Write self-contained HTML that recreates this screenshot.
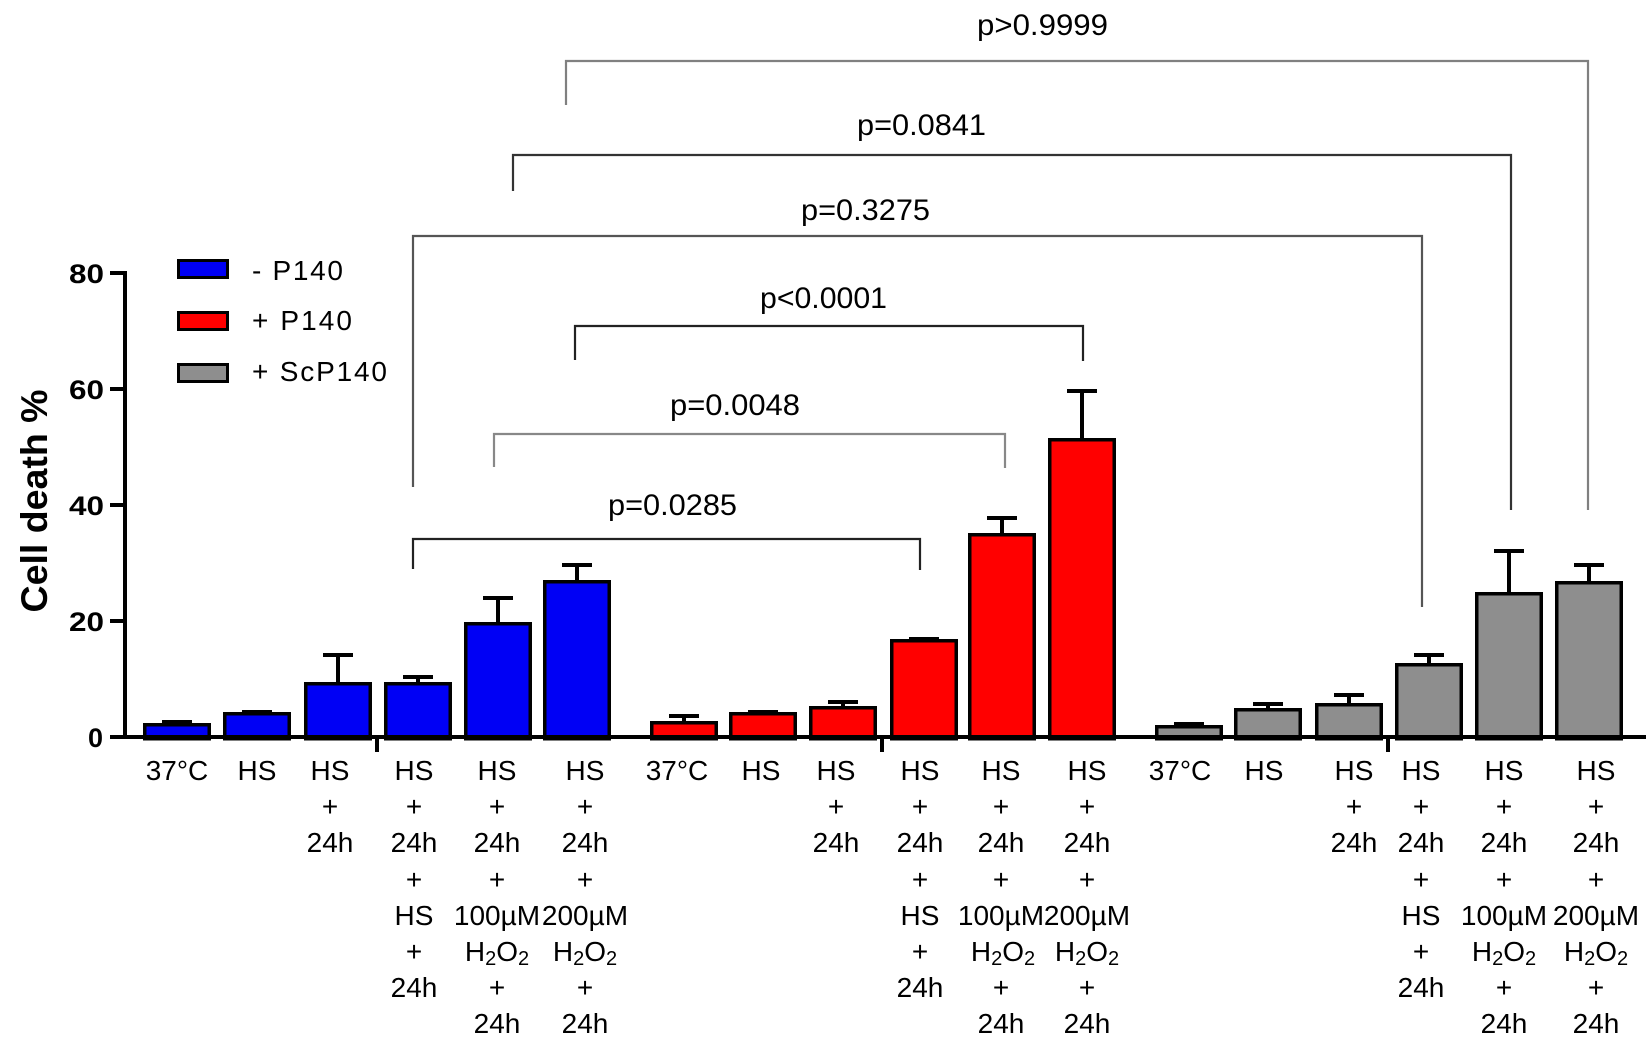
<!DOCTYPE html>
<html><head><meta charset="utf-8"><style>
html,body{margin:0;padding:0;background:#fff;}
svg{display:block;}
text{font-family:"Liberation Sans",Arial,sans-serif;fill:#000;}
.lbl{font-size:28px;text-anchor:middle;}
.pv{font-size:30px;}
.tk{font-size:27px;font-weight:bold;text-anchor:end;}
.lg{font-size:28px;}
</style></head><body>
<svg width="1650" height="1041" viewBox="0 0 1650 1041" xmlns="http://www.w3.org/2000/svg">
<rect width="1650" height="1041" fill="#fff"/>

<!-- Brackets -->
<g fill="none" stroke-width="2.2">
<path d="M566,105 V61 H1588 V510" stroke="#808080"/>
<path d="M513,191 V155 H1511 V510" stroke="#333"/>
<path d="M413,487 V236 H1422 V607" stroke="#555"/>
<path d="M575,360 V326 H1083 V361" stroke="#222"/>
<path d="M494,467 V434 H1005 V468" stroke="#888"/>
<path d="M413,569 V539 H920 V570" stroke="#222"/>
</g>

<!-- p values -->
<text class="pv" x="977" y="35" textLength="131" lengthAdjust="spacingAndGlyphs">p&gt;0.9999</text>
<text class="pv" x="857" y="135" textLength="129" lengthAdjust="spacingAndGlyphs">p=0.0841</text>
<text class="pv" x="801" y="220" textLength="129" lengthAdjust="spacingAndGlyphs">p=0.3275</text>
<text class="pv" x="760" y="308" textLength="127" lengthAdjust="spacingAndGlyphs">p&lt;0.0001</text>
<text class="pv" x="670" y="415" textLength="130" lengthAdjust="spacingAndGlyphs">p=0.0048</text>
<text class="pv" x="608" y="515" textLength="129" lengthAdjust="spacingAndGlyphs">p=0.0285</text>

<!-- Error bars -->
<g stroke="#000" stroke-width="4" fill="none">
<!-- blue -->
<path d="M177,723 V722 M162,722 H192"/>
<path d="M257,712 V712 M242,712 H272"/>
<path d="M338,682 V655 M323,655 H353"/>
<path d="M418,682 V677 M403,677 H433"/>
<path d="M498,622 V598 M483,598 H513"/>
<path d="M577,580 V565 M562,565 H592"/>
<!-- red -->
<path d="M684,721 V716 M669,716 H699"/>
<path d="M763,712 V712 M748,712 H778"/>
<path d="M843,706 V702 M828,702 H858"/>
<path d="M924,639 V639 M909,639 H939"/>
<path d="M1002,533 V518 M987,518 H1017"/>
<path d="M1082,438 V391 M1067,391 H1097"/>
<!-- gray -->
<path d="M1189,725 V724 M1174,724 H1204"/>
<path d="M1268,708 V704 M1253,704 H1283"/>
<path d="M1349,703 V695 M1334,695 H1364"/>
<path d="M1429,663 V655 M1414,655 H1444"/>
<path d="M1509,592 V551 M1494,551 H1524"/>
<path d="M1589,581 V565 M1574,565 H1604"/>
</g>

<!-- Bars -->
<g stroke="#000" stroke-width="3.5">
<g fill="#0000f5">
<rect x="144.75" y="724.75" width="64.5" height="14"/>
<rect x="224.75" y="713.75" width="64.5" height="25"/>
<rect x="305.75" y="683.75" width="64.5" height="55"/>
<rect x="385.75" y="683.75" width="64.5" height="55"/>
<rect x="465.75" y="623.75" width="64.5" height="115"/>
<rect x="544.75" y="581.75" width="64.5" height="157"/>
</g>
<g fill="#ff0000">
<rect x="651.75" y="722.75" width="64.5" height="16"/>
<rect x="730.75" y="713.75" width="64.5" height="25"/>
<rect x="810.75" y="707.75" width="64.5" height="31"/>
<rect x="891.75" y="640.75" width="64.5" height="98"/>
<rect x="969.75" y="534.75" width="64.5" height="204"/>
<rect x="1049.75" y="439.75" width="64.5" height="299"/>
</g>
<g fill="#8e8e8e">
<rect x="1156.75" y="726.75" width="64.5" height="12"/>
<rect x="1235.75" y="709.75" width="64.5" height="29"/>
<rect x="1316.75" y="704.75" width="64.5" height="34"/>
<rect x="1396.75" y="664.75" width="64.5" height="74"/>
<rect x="1476.75" y="593.75" width="64.5" height="145"/>
<rect x="1556.75" y="582.75" width="64.5" height="156"/>
</g>
</g>

<!-- Axes -->
<g stroke="#000" stroke-width="4" fill="none">
<path d="M125,271 V739"/>
<path d="M110,737 H1646"/>
<path d="M110,273 H125 M110,389 H125 M110,505 H125 M110,621 H125"/>
<path d="M377,737 V752 M882,737 V752 M1388,737 V752"/>
</g>

<!-- Tick labels -->
<text class="tk" x="104" y="283" textLength="35" lengthAdjust="spacingAndGlyphs">80</text>
<text class="tk" x="104" y="399" textLength="35" lengthAdjust="spacingAndGlyphs">60</text>
<text class="tk" x="104" y="515" textLength="35" lengthAdjust="spacingAndGlyphs">40</text>
<text class="tk" x="104" y="631" textLength="35" lengthAdjust="spacingAndGlyphs">20</text>
<text class="tk" x="103" y="747">0</text>

<!-- Y axis title -->
<text x="0" y="0" transform="translate(47,501) rotate(-90)" style="font-size:37px;font-weight:bold;text-anchor:middle;" textLength="223" lengthAdjust="spacingAndGlyphs">Cell death %</text>

<!-- Legend -->
<g stroke="#000" stroke-width="3">
<rect x="178.5" y="260.5" width="49" height="17" fill="#0000f5"/>
<rect x="178.5" y="312.5" width="49" height="17" fill="#ff0000"/>
<rect x="178.5" y="364.5" width="49" height="17" fill="#8e8e8e"/>
</g>
<text class="lg" x="252" y="280" textLength="91" lengthAdjust="spacing">-  P140</text>
<text class="lg" x="252" y="330" textLength="100" lengthAdjust="spacing">+ P140</text>
<text class="lg" x="252" y="381" textLength="135" lengthAdjust="spacing">+ ScP140</text>

<!-- X labels: blue group -->
<g class="lbl">
<text class="lbl" x="177" y="780">37°C</text>
<text class="lbl" x="257" y="780">HS</text>
<text class="lbl" x="330" y="780">HS</text><text class="lbl" x="330" y="816">+</text><text class="lbl" x="330" y="852">24h</text>
<text class="lbl" x="414" y="780">HS</text><text class="lbl" x="414" y="816">+</text><text class="lbl" x="414" y="852">24h</text><text class="lbl" x="414" y="889">+</text><text class="lbl" x="414" y="925">HS</text><text class="lbl" x="414" y="961">+</text><text class="lbl" x="414" y="997">24h</text>
<text class="lbl" x="497" y="780">HS</text><text class="lbl" x="497" y="816">+</text><text class="lbl" x="497" y="852">24h</text><text class="lbl" x="497" y="889">+</text><text class="lbl" x="497" y="925">100µM</text><text class="lbl" x="497" y="961">H<tspan font-size="20" dy="4">2</tspan><tspan dy="-4">O</tspan><tspan font-size="20" dy="4">2</tspan></text><text class="lbl" x="497" y="997">+</text><text class="lbl" x="497" y="1033">24h</text>
<text class="lbl" x="585" y="780">HS</text><text class="lbl" x="585" y="816">+</text><text class="lbl" x="585" y="852">24h</text><text class="lbl" x="585" y="889">+</text><text class="lbl" x="585" y="925">200µM</text><text class="lbl" x="585" y="961">H<tspan font-size="20" dy="4">2</tspan><tspan dy="-4">O</tspan><tspan font-size="20" dy="4">2</tspan></text><text class="lbl" x="585" y="997">+</text><text class="lbl" x="585" y="1033">24h</text>

<!-- red group -->
<text class="lbl" x="677" y="780">37°C</text>
<text class="lbl" x="761" y="780">HS</text>
<text class="lbl" x="836" y="780">HS</text><text class="lbl" x="836" y="816">+</text><text class="lbl" x="836" y="852">24h</text>
<text class="lbl" x="920" y="780">HS</text><text class="lbl" x="920" y="816">+</text><text class="lbl" x="920" y="852">24h</text><text class="lbl" x="920" y="889">+</text><text class="lbl" x="920" y="925">HS</text><text class="lbl" x="920" y="961">+</text><text class="lbl" x="920" y="997">24h</text>
<text class="lbl" x="1001" y="780">HS</text><text class="lbl" x="1001" y="816">+</text><text class="lbl" x="1001" y="852">24h</text><text class="lbl" x="1001" y="889">+</text><text class="lbl" x="1001" y="925">100µM</text><text class="lbl" x="1003" y="961">H<tspan font-size="20" dy="4">2</tspan><tspan dy="-4">O</tspan><tspan font-size="20" dy="4">2</tspan></text><text class="lbl" x="1001" y="997">+</text><text class="lbl" x="1001" y="1033">24h</text>
<text class="lbl" x="1087" y="780">HS</text><text class="lbl" x="1087" y="816">+</text><text class="lbl" x="1087" y="852">24h</text><text class="lbl" x="1087" y="889">+</text><text class="lbl" x="1087" y="925">200µM</text><text class="lbl" x="1087" y="961">H<tspan font-size="20" dy="4">2</tspan><tspan dy="-4">O</tspan><tspan font-size="20" dy="4">2</tspan></text><text class="lbl" x="1087" y="997">+</text><text class="lbl" x="1087" y="1033">24h</text>

<!-- gray group -->
<text class="lbl" x="1180" y="780">37°C</text>
<text class="lbl" x="1264" y="780">HS</text>
<text class="lbl" x="1354" y="780">HS</text><text class="lbl" x="1354" y="816">+</text><text class="lbl" x="1354" y="852">24h</text>
<text class="lbl" x="1421" y="780">HS</text><text class="lbl" x="1421" y="816">+</text><text class="lbl" x="1421" y="852">24h</text><text class="lbl" x="1421" y="889">+</text><text class="lbl" x="1421" y="925">HS</text><text class="lbl" x="1421" y="961">+</text><text class="lbl" x="1421" y="997">24h</text>
<text class="lbl" x="1504" y="780">HS</text><text class="lbl" x="1504" y="816">+</text><text class="lbl" x="1504" y="852">24h</text><text class="lbl" x="1504" y="889">+</text><text class="lbl" x="1504" y="925">100µM</text><text class="lbl" x="1504" y="961">H<tspan font-size="20" dy="4">2</tspan><tspan dy="-4">O</tspan><tspan font-size="20" dy="4">2</tspan></text><text class="lbl" x="1504" y="997">+</text><text class="lbl" x="1504" y="1033">24h</text>
<text class="lbl" x="1596" y="780">HS</text><text class="lbl" x="1596" y="816">+</text><text class="lbl" x="1596" y="852">24h</text><text class="lbl" x="1596" y="889">+</text><text class="lbl" x="1596" y="925">200µM</text><text class="lbl" x="1596" y="961">H<tspan font-size="20" dy="4">2</tspan><tspan dy="-4">O</tspan><tspan font-size="20" dy="4">2</tspan></text><text class="lbl" x="1596" y="997">+</text><text class="lbl" x="1596" y="1033">24h</text>
</g>
</svg>
</body></html>
